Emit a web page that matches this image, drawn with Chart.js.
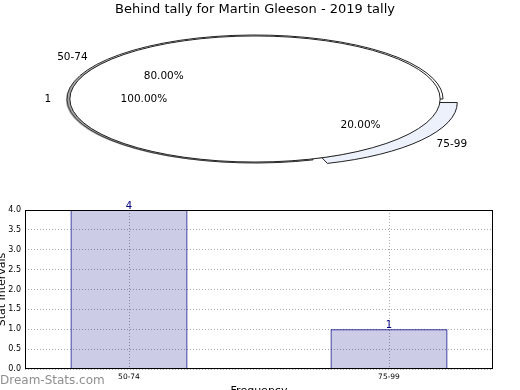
<!DOCTYPE html>
<html>
<head>
<meta charset="utf-8">
<script src="https://cdn.jsdelivr.net/npm/chart.js@4"></script>
<style>
html, body { margin: 0; padding: 0; width: 520px; height: 390px; overflow: hidden; background: #fff; }
#pieBox { position: absolute; left: 0; top: 0; width: 520px; height: 195px; }
#barBox { position: absolute; left: -7px; top: 195px; width: 527px; height: 215px; }
#mark { position: absolute; left: 0; top: 373px; font: 12px "DejaVu Sans"; line-height: 14px; color: #8f8f8f; }
</style>
</head>
<body>
<div id="pieBox"><canvas id="pie"></canvas></div>
<div id="barBox"><canvas id="bar"></canvas></div>
<div id="mark">Dream-Stats.com</div>
<script>
const titleText = 'Behind tally for Martin Gleeson - 2019 tally';
const categories = ['50-74', '75-99'];
const counts = [4, 1];
const percents = [80, 20];
const totalLabels = ['1'];
const totalPercents = [100];
const yMax = 4;
const yStep = 0.5;

const font = 'DejaVu Sans';
const squash = 188 / 64;   // pie is drawn as a flat ellipse
const innerShrink = 0.985;

function stretch(ctx, x, y) {
    ctx.translate(x, y);
    ctx.scale(squash, 1);
    ctx.translate(-x, -y);
}

// both pies share the full radius, the second one sits on top
const ellipsePie = {
    id: 'ellipsePie',
    afterDatasetsUpdate(chart) {
        const R = chart.options.radius;
        chart.getDatasetMeta(0).data.forEach(el => { el.innerRadius = 0; el.outerRadius = R; });
        chart.getDatasetMeta(1).data.forEach(el => { el.innerRadius = 0; el.outerRadius = R * innerShrink; });
    },
    beforeDatasetDraw(chart, args) {
        const ctx = chart.ctx;
        const el = args.meta.data[0];
        ctx.save();
        stretch(ctx, el.x, el.y);
        if (args.index === 1) {
            ctx.shadowColor = 'rgba(77,77,77,0.5)';
            ctx.shadowOffsetX = -4;
            ctx.shadowOffsetY = 1;
            ctx.shadowBlur = 0;
        }
    },
    afterDatasetDraw(chart, args) {
        const ctx = chart.ctx;
        ctx.restore();
        args.meta.data.forEach(el => {
            const mid = (el.startAngle + el.endAngle) / 2;
            const shift = (el.options.offset || 0) / 4;
            const full = el.endAngle - el.startAngle >= Math.PI * 2 - 1e-6;
            ctx.save();
            ctx.beginPath();
            stretch(ctx, el.x, el.y);
            ctx.translate(Math.cos(mid) * shift, Math.sin(mid) * shift);
            if (full) {
                ctx.arc(el.x, el.y, el.outerRadius, 0, Math.PI * 2);
            } else {
                ctx.moveTo(el.x, el.y);
                ctx.arc(el.x, el.y, el.outerRadius, el.startAngle, el.endAngle);
                ctx.closePath();
            }
            ctx.restore();
            ctx.save();
            ctx.lineWidth = 1;
            ctx.strokeStyle = '#222';
            ctx.stroke();
            ctx.restore();
        });
    },
    afterDraw(chart) {
        const ctx = chart.ctx;
        ctx.save();
        ctx.font = '10.5px "' + font + '"';
        ctx.fillStyle = '#000';
        ctx.textBaseline = 'middle';
        chart.data.datasets.forEach((ds, d) => {
            chart.getDatasetMeta(d).data.forEach((el, i) => {
                const mid = (el.startAngle + el.endAngle) / 2;
                const shift = (el.options.offset || 0) / 4;
                const r = el.outerRadius;
                const at = k => ({
                    x: el.x + Math.cos(mid) * (k * r + shift) * squash,
                    y: el.y + Math.sin(mid) * (k * r + shift)
                });
                const lab = at(1.1);
                ctx.textAlign = Math.cos(mid) > 0 ? 'left' : 'right';
                ctx.fillText(ds.sliceLabels[i], lab.x, lab.y);
                const pct = at(0.6);
                ctx.textAlign = 'center';
                ctx.fillText(ds.data[i].toFixed(2) + '%', pct.x, pct.y);
            });
        });
        ctx.restore();
    }
};

new Chart(document.getElementById('pie'), {
    type: 'pie',
    data: {
        labels: categories,
        datasets: [
            {
                data: percents,
                sliceLabels: categories,
                backgroundColor: ['#ffffff', '#ecf1fc'],
                borderWidth: 0,
                offset: [0, 24],
                rotation: 90 + percents[1] / 100 * 360,
                order: 1
            },
            {
                data: totalPercents,
                sliceLabels: totalLabels,
                backgroundColor: '#ffffff',
                borderWidth: 0,
                rotation: 90,
                order: 0
            }
        ]
    },
    options: {
        animation: false,
        responsive: true,
        maintainAspectRatio: false,
        events: [],
        radius: 64,
        layout: { padding: { top: 0, left: 0, right: 10, bottom: 22.6 } },
        plugins: {
            legend: { display: false },
            tooltip: { enabled: false },
            title: {
                display: true,
                text: titleText,
                color: '#000',
                font: { family: font, size: 13, weight: 'normal' },
                padding: { top: 2, bottom: 8 }
            }
        }
    },
    plugins: [ellipsePie]
});

// frame round the plot and the value over each bar
const barExtras = {
    id: 'barExtras',
    afterDatasetsDraw(chart) {
        const ctx = chart.ctx;
        const a = chart.chartArea;
        ctx.save();
        ctx.strokeStyle = '#000';
        ctx.lineWidth = 1;
        ctx.strokeRect(Math.round(a.left) + 0.5, Math.round(a.top) + 0.5,
            Math.round(a.right - a.left) - 1, Math.round(a.bottom - a.top) - 1);
        ctx.fillStyle = '#000080';
        ctx.font = '10px "' + font + '"';
        ctx.textAlign = 'center';
        ctx.textBaseline = 'bottom';
        chart.getDatasetMeta(0).data.forEach((el, i) => {
            ctx.fillText(String(counts[i]), el.x, el.y + 1);
        });
        ctx.restore();
    }
};

new Chart(document.getElementById('bar'), {
    type: 'bar',
    data: {
        datasets: [{
            data: categories.map((c, i) => ({ x: i, y: counts[i] })),
            backgroundColor: 'rgba(0,0,128,0.2)',
            borderColor: '#000080',
            borderWidth: 1,
            barPercentage: 0.45,
            categoryPercentage: 1
        }]
    },
    options: {
        animation: false,
        responsive: true,
        maintainAspectRatio: false,
        events: [],
        layout: { padding: { top: 15, left: 0, right: 27, bottom: 8 } },
        plugins: { legend: { display: false }, tooltip: { enabled: false } },
        scales: {
            x: {
                type: 'linear',
                min: -0.4,
                max: categories.length - 0.6,
                offset: false,
                afterBuildTicks: s => { s.ticks = categories.map((c, i) => ({ value: i })); },
                afterFit: s => { s.height = 33; },
                ticks: {
                    autoSkip: false,
                    maxRotation: 0,
                    callback: v => categories[v],
                    color: '#000',
                    font: { family: font, size: 7.5 },
                    padding: 4
                },
                grid: { offset: false, drawTicks: false, color: '#aaa' },
                border: { display: false, dash: [1, 2] },
                title: {
                    display: true,
                    text: 'Frequency',
                    color: '#000',
                    font: { family: font, size: 11 },
                    padding: { top: 0, bottom: 4 }
                }
            },
            y: {
                min: 0,
                max: yMax,
                afterFit: s => { s.width = 32; },
                ticks: {
                    stepSize: yStep,
                    callback: v => v.toFixed(1),
                    color: '#000',
                    font: { family: font, size: 8 },
                    padding: 4
                },
                grid: { drawTicks: false, color: '#aaa' },
                border: { display: false, dash: [1, 2] },
                title: {
                    display: true,
                    text: 'Stat Intervals',
                    color: '#000',
                    font: { family: font, size: 11 },
                    padding: { top: 3, bottom: 0 }
                }
            }
        }
    },
    plugins: [barExtras]
});
</script>
</body>
</html>
